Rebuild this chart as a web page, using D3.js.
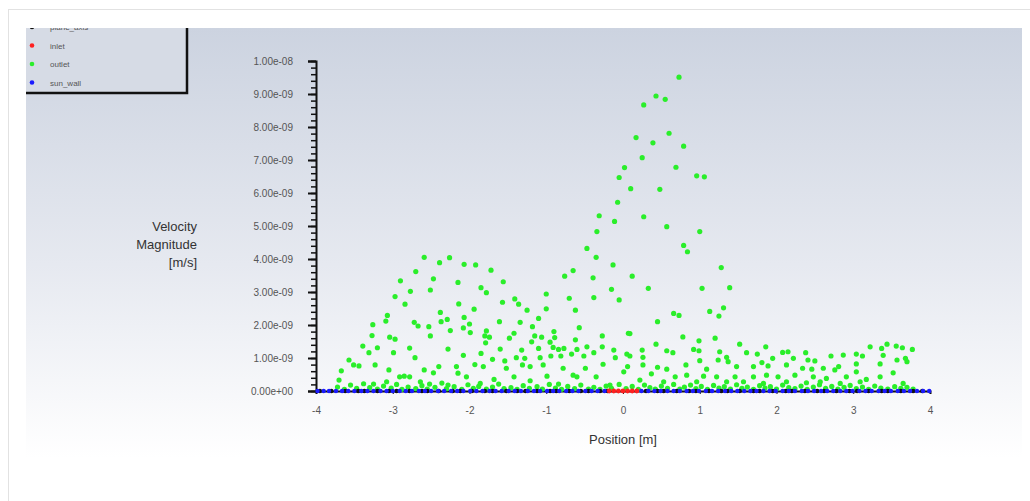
<!DOCTYPE html>
<html>
<head>
<meta charset="utf-8">
<script src="https://cdn.jsdelivr.net/npm/d3@7.9.0/dist/d3.min.js"></script>
<style>
  body { margin: 0; background: #fff; }
  svg { display: block; font-family: "Liberation Sans", Arial, sans-serif; }
</style>
</head>
<body>
<svg id="chart" width="1030" height="501"></svg>
<script>
// zone names shown in the legend
const zones = ['plane_axis', 'inlet', 'outlet', 'sun_wall'];
const zoneColors = ['#111111', '#ff2020', '#2aee2a', '#1a1aff'];

const xTicks = [-4, -3, -2, -1, 0, 1, 2, 3, 4];
const yTicks = [0, 1, 2, 3, 4, 5, 6, 7, 8, 9, 10]; // in 1e-9 m/s

// outlet: [position m, velocity 1e-9 m/s]
const outlet = [
  [-0.34,4.83],[-0.47,4.32],[-0.35,4.05],[-0.13,3.82],[-2.59,4.05],[-2.39,3.89],[-2.26,4.04],[-2.07,3.84],
  [-1.92,3.82],[-1.72,3.66],[-2.70,3.62],[-2.47,3.40],[-2.90,3.34],[-2.15,3.29],[-1.56,3.31],[-0.65,3.65],
  [-0.76,3.48],[-0.39,3.43],[-2.77,3.02],[-2.51,3.06],[-1.85,3.13],[-1.78,2.98],[-2.97,2.86],[-0.15,3.08],
  [-0.05,2.76],[-0.38,2.83],[-0.70,2.81],[-1.00,2.94],[-2.84,2.63],[-2.14,2.64],[-1.57,2.69],[-1.41,2.79],
  [-1.36,2.63],[-1.94,2.48],[-1.25,2.45],[-1.00,2.49],[-0.62,2.45],[-2.38,2.38],[-3.07,2.29],[-2.07,2.23],
  [-3.09,2.12],[-2.72,2.08],[-2.67,1.97],[-2.37,2.10],[-2.29,2.17],[-2.00,2.03],[-1.61,2.10],[-1.34,2.08],
  [-1.10,2.20],[-3.26,2.01],[-2.53,1.95],[-2.25,1.83],[-2.08,1.91],[-1.78,1.82],[-0.57,1.92],[-1.18,1.95],
  [-3.27,1.68],[-3.04,1.63],[-2.97,1.57],[-2.51,1.67],[-1.99,1.77],[-1.80,1.67],[-1.74,1.63],[-1.48,1.60],
  [-1.42,1.75],[-1.15,1.67],[-1.06,1.63],[-0.90,1.80],[-0.89,1.62],[-0.62,1.55],[-0.27,1.67],[0.07,1.75],
  [-1.79,1.46],[-1.19,1.49],[-0.95,1.48],[-3.39,1.36],[-3.20,1.31],[-2.78,1.30],[-2.28,1.27],[-1.60,1.27],
  [-1.32,1.24],[-1.10,1.29],[-0.91,1.32],[-0.84,1.26],[-0.77,1.29],[-0.60,1.26],[-0.47,1.34],[-0.27,1.34],
  [-0.12,1.24],[-3.31,1.16],[-2.99,1.16],[-2.71,1.01],[-2.08,1.08],[-1.85,1.14],[-1.70,0.96],[-1.54,0.91],
  [-1.39,1.01],[-1.28,0.99],[-1.08,1.01],[-0.94,1.06],[-0.81,1.06],[-0.67,1.12],[-0.51,1.06],[-0.38,1.16],
  [-0.10,1.01],[-3.57,0.94],[-3.51,0.79],[-3.44,0.76],[-3.23,0.79],[-3.05,0.64],[-2.85,0.45],[-2.78,0.43],
  [-2.59,0.64],[-2.47,0.55],[-2.40,0.74],[-2.17,0.74],[-2.15,0.54],[-1.93,0.80],[-1.82,0.74],[-1.52,0.69],
  [-1.31,0.79],[-1.21,0.74],[-1.04,0.79],[-0.78,0.69],[-0.65,0.48],[-0.49,0.69],[-0.26,0.81],[0.01,0.58],
  [-3.67,0.61],[-3.70,0.33],[-3.25,0.21],[-3.08,0.28],[-2.91,0.43],[-2.64,0.28],[-2.52,0.21],[-2.28,0.18],
  [-2.04,0.43],[-1.86,0.23],[-1.68,0.35],[-1.42,0.43],[-1.21,0.31],[-0.99,0.45],[-0.84,0.21],[-0.60,0.43],
  [-0.35,0.43],[-0.17,0.18],
  [0.73,9.51],[0.43,8.94],[0.55,8.84],[0.27,8.67],[0.60,7.81],[0.17,7.68],[0.39,7.52],[0.79,7.42],
  [0.25,7.07],[0.02,6.77],[0.69,6.78],[-0.05,6.47],[0.96,6.52],[1.06,6.49],[0.10,6.13],[0.48,6.11],
  [-0.07,5.72],[-0.31,5.31],[-0.11,5.14],[0.27,5.28],[0.57,4.98],[1.00,4.83],[0.79,4.41],[0.84,4.22],
  [0.12,3.48],[0.33,3.11],[1.28,3.74],[1.39,3.13],[1.03,3.11],[0.66,2.35],[0.73,2.29],[1.13,2.41],
  [1.25,2.27],[1.31,2.52],[0.45,2.10],[0.09,1.74],[0.78,1.64],[1.20,1.60],[0.99,1.52],[0.43,1.42],
  [0.25,1.24],[0.57,1.22],[0.65,1.16],[0.92,1.26],[0.99,1.22],[1.26,1.19],[1.52,1.42],[1.61,1.16],
  [1.86,1.34],[1.75,1.12],[2.08,1.17],[2.15,1.19],[2.38,1.16],[2.71,1.06],[2.87,1.09],[3.04,1.12],
  [3.22,1.34],[3.37,1.29],[3.44,1.42],[3.56,1.36],[3.64,1.31],[3.77,1.26],[3.39,1.08],[3.57,0.94],
  [3.68,0.99],[3.70,0.89],[3.12,1.06],[0.05,1.12],[0.09,1.06],[0.26,1.02],[1.35,1.02],[1.37,0.89],
  [1.24,0.94],[1.95,0.99],[2.22,0.99],[2.41,0.94],[2.50,0.91],[2.81,0.74],[3.04,0.82],[3.35,0.82],
  [0.06,0.74],[0.26,0.79],[0.45,0.72],[0.57,0.66],[0.82,0.79],[1.00,0.92],[1.09,0.66],[1.48,0.74],
  [1.70,0.74],[1.81,0.86],[1.89,0.76],[2.13,0.79],[2.34,0.69],[2.46,0.66],[2.61,0.69],[2.76,0.64],
  [3.04,0.58],[3.52,0.55],[0.37,0.52],[0.68,0.43],[0.83,0.48],[1.05,0.45],[1.22,0.43],[1.46,0.43],
  [1.70,0.43],[1.87,0.48],[2.02,0.43],[2.24,0.48],[2.48,0.43],[2.65,0.38],[2.91,0.43],[3.17,0.35],
  [3.35,0.43],[0.22,0.33],[0.53,0.28],[0.96,0.28],[1.35,0.28],[1.57,0.28],[1.83,0.23],[2.13,0.28],
  [2.39,0.25],[2.57,0.28],[2.83,0.23],[3.09,0.28],[3.65,0.23],
  [-3.72,0.12],[-3.63,0.05],[-3.55,0.18],[-3.47,0.08],[-3.38,0.22],[-3.30,0.10],[-3.20,0.06],[-3.12,0.15],
  [-3.02,0.09],[-2.95,0.20],[-2.88,0.05],[-2.80,0.12],[-2.70,0.07],[-2.62,0.16],[-2.55,0.06],[-2.45,0.11],
  [-2.36,0.24],[-2.30,0.07],[-2.20,0.13],[-2.10,0.05],[-2.02,0.19],[-1.95,0.08],[-1.88,0.14],[-1.78,0.06],
  [-1.70,0.12],[-1.62,0.21],[-1.55,0.07],[-1.46,0.10],[-1.38,0.05],[-1.30,0.16],[-1.22,0.08],[-1.12,0.13],
  [-1.05,0.06],[-0.96,0.20],[-0.88,0.09],[-0.80,0.05],[-0.72,0.14],[-0.63,0.07],[-0.55,0.18],[-0.45,0.06],
  [-0.38,0.11],[-0.30,0.05],[-0.22,0.15],[-0.15,0.08],[-0.05,0.20],[0.04,0.07],[0.12,0.14],[0.20,0.05],
  [0.28,0.18],[0.35,0.10],[0.42,0.06],[0.50,0.15],[0.58,0.08],[0.66,0.20],[0.74,0.06],[0.80,0.12],
  [0.88,0.18],[0.95,0.07],[1.02,0.14],[1.10,0.05],[1.18,0.17],[1.25,0.09],[1.32,0.13],[1.40,0.06],
  [1.48,0.19],[1.55,0.08],[1.62,0.12],[1.70,0.05],[1.78,0.16],[1.85,0.09],[1.92,0.13],[2.00,0.06],
  [2.08,0.18],[2.16,0.10],[2.24,0.07],[2.32,0.15],[2.40,0.05],[2.48,0.12],[2.56,0.19],[2.64,0.08],
  [2.72,0.14],[2.80,0.06],[2.88,0.11],[2.96,0.17],[3.04,0.07],[3.12,0.12],[3.20,0.05],[3.28,0.15],
  [3.36,0.09],[3.45,0.06],[3.54,0.13],[3.62,0.08],[3.70,0.11],[3.78,0.06]
];

// wall and axis zones sit on zero velocity
const wallX = [-3.98,-3.9,-3.83,-3.74,-3.66,-3.58,-3.5,-3.41,-3.33,-3.25,-3.16,-3.08,-3.0,-2.91,-2.83,-2.75,
  -2.66,-2.58,-2.5,-2.41,-2.33,-2.24,-2.16,-2.08,-1.99,-1.91,-1.83,-1.74,-1.66,-1.58,-1.49,-1.41,-1.33,-1.24,
  -1.16,-1.08,-0.99,-0.91,-0.83,-0.74,-0.66,-0.58,-0.49,-0.41,-0.33,-0.24,0.24,0.33,0.41,0.49,0.58,0.66,0.74,
  0.83,0.91,0.99,1.08,1.16,1.24,1.33,1.41,1.49,1.58,1.66,1.74,1.83,1.91,1.99,2.08,2.16,2.24,2.33,2.41,2.49,
  2.58,2.66,2.74,2.83,2.91,2.99,3.08,3.16,3.24,3.33,3.41,3.49,3.58,3.66,3.74,3.83,3.91,3.99];
const axisX = [-3.95,-3.8,-3.62,-3.45,-3.37,-3.2,-3.05,-2.95,-2.78,-2.62,-2.55,-2.4,-2.22,-2.12,-1.97,-1.8,
  -1.7,-1.52,-1.38,-1.27,-1.12,-0.95,-0.87,-0.7,-0.55,-0.45,-0.3,-0.2,0.3,0.45,0.53,0.7,0.86,0.95,1.12,1.28,
  1.36,1.52,1.7,1.78,1.95,2.12,2.2,2.37,2.53,2.62,2.78,2.95,3.05,3.2,3.37,3.45,3.62,3.78,3.9];
const inletX = [-0.18,-0.12,-0.06,0.0,0.06,0.12,0.18];

const svg = d3.select('#chart');

// page frame
svg.append('rect').attr('x', 8.5).attr('y', 9.5).attr('width', 1030).attr('height', 500)
  .attr('fill', '#fff').attr('stroke', '#e2e2e2');

// panel background
const grad = svg.append('defs').append('linearGradient')
  .attr('id', 'bg').attr('x1', 0).attr('y1', 0).attr('x2', 0).attr('y2', 1);
grad.append('stop').attr('offset', '0%').attr('stop-color', '#ccd3e0');
grad.append('stop').attr('offset', '55%').attr('stop-color', '#e6e9f0');
grad.append('stop').attr('offset', '100%').attr('stop-color', '#ffffff');
svg.append('rect').attr('x', 26).attr('y', 28).attr('width', 996).attr('height', 430)
  .attr('fill', 'url(#bg)');

const x = d3.scaleLinear().domain([-4, 4]).range([316, 930]);
const y = d3.scaleLinear().domain([0, 10]).range([391, 61]);

const sci = (d) => {
  if (d === 0) return '0.00e+00';
  const [m, e] = (d * 1e-9).toExponential(2).split('e');
  const n = Math.abs(+e);
  return `${m}e${+e < 0 ? '-' : '+'}${n < 10 ? '0' + n : n}`;
};

// y axis
const yAxis = svg.append('g').attr('transform', 'translate(316,0)')
  .call(d3.axisLeft(y).tickValues(yTicks).tickFormat(sci).tickSize(8).tickPadding(15));
yAxis.select('.domain').attr('stroke', '#111').attr('stroke-width', 2);
yAxis.selectAll('.tick line').attr('stroke', '#111').attr('stroke-width', 2);
yAxis.selectAll('text').attr('fill', '#555').attr('font-size', 10);
// minor ticks
svg.append('g').attr('transform', 'translate(316,0)')
  .call(d3.axisLeft(y).ticks(50).tickFormat('').tickSize(5))
  .call((g) => g.select('.domain').remove())
  .selectAll('line').attr('stroke', '#111').attr('stroke-width', 1.5);

// x axis
const xAxis = svg.append('g').attr('transform', 'translate(0,391)')
  .call(d3.axisBottom(x).tickValues(xTicks).tickFormat((d) => String(d)).tickSize(3).tickPadding(13));
xAxis.select('.domain').attr('stroke', '#111').attr('stroke-width', 2);
xAxis.selectAll('.tick line').attr('stroke', '#111');
xAxis.selectAll('text').attr('fill', '#555').attr('font-size', 10);

// titles
svg.append('text').attr('x', 623).attr('y', 444).attr('text-anchor', 'middle')
  .attr('font-size', 13).attr('fill', '#333').text('Position [m]');
svg.append('text').attr('text-anchor', 'end').attr('font-size', 13).attr('fill', '#333')
  .selectAll('tspan').data(['Velocity', 'Magnitude', '[m/s]']).join('tspan')
  .attr('x', 197).attr('y', (d, i) => 231 + i * 18).text((d) => d);

// points
const dots = svg.append('g');
dots.selectAll('.outlet').data(outlet).join('circle').attr('class', 'outlet')
  .attr('cx', (d) => x(d[0])).attr('cy', (d) => y(d[1])).attr('r', 2.6)
  .attr('fill', zoneColors[2]);
dots.selectAll('.axisz').data(axisX).join('circle').attr('class', 'axisz')
  .attr('cx', (d) => x(d)).attr('cy', y(0)).attr('r', 2.3).attr('fill', zoneColors[0]);
dots.selectAll('.wall').data(wallX).join('circle').attr('class', 'wall')
  .attr('cx', (d) => x(d)).attr('cy', y(0)).attr('r', 2.2).attr('fill', zoneColors[3]);
dots.selectAll('.inlet').data(inletX).join('circle').attr('class', 'inlet')
  .attr('cx', (d) => x(d)).attr('cy', y(0)).attr('r', 2.4).attr('fill', zoneColors[1]);

// legend
const lg = svg.append('g');
lg.append('rect').attr('x', 26).attr('y', 28).attr('width', 161).attr('height', 64)
  .attr('fill', '#d6dbe5');
lg.append('path').attr('d', 'M187,28 V93 H26').attr('fill', 'none')
  .attr('stroke', '#111').attr('stroke-width', 2.5);
const rows = lg.selectAll('g.row').data(zones).join('g').attr('class', 'row')
  .attr('transform', (d, i) => `translate(0,${27 + i * 18.5})`);
rows.append('circle').attr('cx', 32).attr('cy', 0).attr('r', 2.3)
  .attr('fill', (d, i) => zoneColors[i]);
rows.append('text').attr('x', 50).attr('y', 3).attr('font-size', 8).attr('fill', '#555')
  .text((d) => d);
// top row cut by the panel edge
svg.append('rect').attr('x', 26).attr('y', 20).attr('width', 160).attr('height', 8).attr('fill', '#fff');
</script>
</body>
</html>
